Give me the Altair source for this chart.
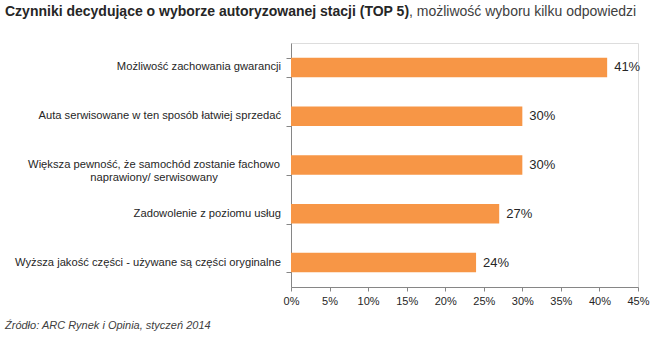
import altair as alt
import pandas as pd

categories = [
    "Możliwość zachowania gwarancji",
    "Auta serwisowane w ten sposób łatwiej sprzedać",
    "Większa pewność, że samochód zostanie fachowo|naprawiony/ serwisowany",
    "Zadowolenie z poziomu usług",
    "Wyższa jakość części - używane są części oryginalne",
]
values = [41, 30, 30, 27, 24]
value_labels = ["41%", "30%", "30%", "27%", "24%"]
x_ticks = [0, 5, 10, 15, 20, 25, 30, 35, 40, 45]

title_bold = "Czynniki decydujące o wyborze autoryzowanej stacji (TOP 5)"
title_rest = ", możliwość wyboru kilku odpowiedzi"
source_text = "Źródło: ARC Rynek i Opinia, styczeń 2014"

df = pd.DataFrame({"cat": categories, "val": values, "lab": value_labels})
df["multi"] = df["cat"].str.contains("|", regex=False)

FONT = "Liberation Sans"
W, H = 347, 244
AX = "#868686"
TXT = "#262626"

y_enc = alt.Y(
    "cat:N",
    sort=categories,
    title=None,
    scale=alt.Scale(paddingInner=0.6, paddingOuter=0.3),
    axis=alt.Axis(
        tickBand="extent",
        tickSize=5,
        tickColor=AX,
        domainColor=AX,
        labels=False,
    ),
)

x_enc = alt.X(
    "val:Q",
    title=None,
    scale=alt.Scale(domain=[0, 45], nice=False),
    axis=alt.Axis(
        values=x_ticks,
        grid=False,
        tickSize=4,
        tickColor=AX,
        domainColor=AX,
        labelFont=FONT,
        labelFontSize=11,
        labelColor=TXT,
        labelPadding=4,
        labelOverlap=False,
        labelFlush=False,
        labelExpr="datum.value + '%'",
    ),
)

base = alt.Chart(df)

bars = base.mark_bar(color="#F79646").encode(x=x_enc, y=y_enc)

labels = base.mark_text(
    align="left", baseline="middle", dx=7, font=FONT, fontSize=13, color=TXT
).encode(x=x_enc, y=y_enc, text="lab:N")

cat_single = base.transform_filter("!datum.multi").mark_text(
    align="right", baseline="middle", font=FONT, fontSize=11.2, color=TXT
).encode(x=alt.value(-10), y=y_enc, text="cat:N")

cat_multi = base.transform_filter("datum.multi").mark_text(
    align="center", baseline="middle", font=FONT, fontSize=11.2, color=TXT,
    lineBreak="|", lineHeight=13
).encode(x=alt.value(-137), y=y_enc, text="cat:N")

t1 = alt.Chart(pd.DataFrame({"t": [title_bold]})).mark_text(
    align="left", baseline="middle", font=FONT, fontSize=14, fontWeight="bold", color=TXT
).encode(x=alt.value(-286), y=alt.value(-31), text="t:N")

t2 = alt.Chart(pd.DataFrame({"t": [title_rest]})).mark_text(
    align="left", baseline="middle", font=FONT, fontSize=14, color="#404040"
).encode(x=alt.value(118), y=alt.value(-31), text="t:N")

src = alt.Chart(pd.DataFrame({"t": [source_text]})).mark_text(
    align="left", baseline="middle", font=FONT, fontSize=11, fontStyle="italic", color="#404040"
).encode(x=alt.value(-286), y=alt.value(283), text="t:N")

chart = (
    alt.layer(bars, labels, cat_single, cat_multi, t1, t2, src)
    .properties(
        width=W,
        height=H,
        autosize=alt.AutoSizeParams(type="none"),
        padding={"left": 291, "top": 43, "right": 17, "bottom": 51},
    )
    .configure_view(strokeWidth=0, stroke="transparent")
    .configure(background="white")
)

chart.save("out.html", embed_options={"renderer": "svg", "actions": False})
